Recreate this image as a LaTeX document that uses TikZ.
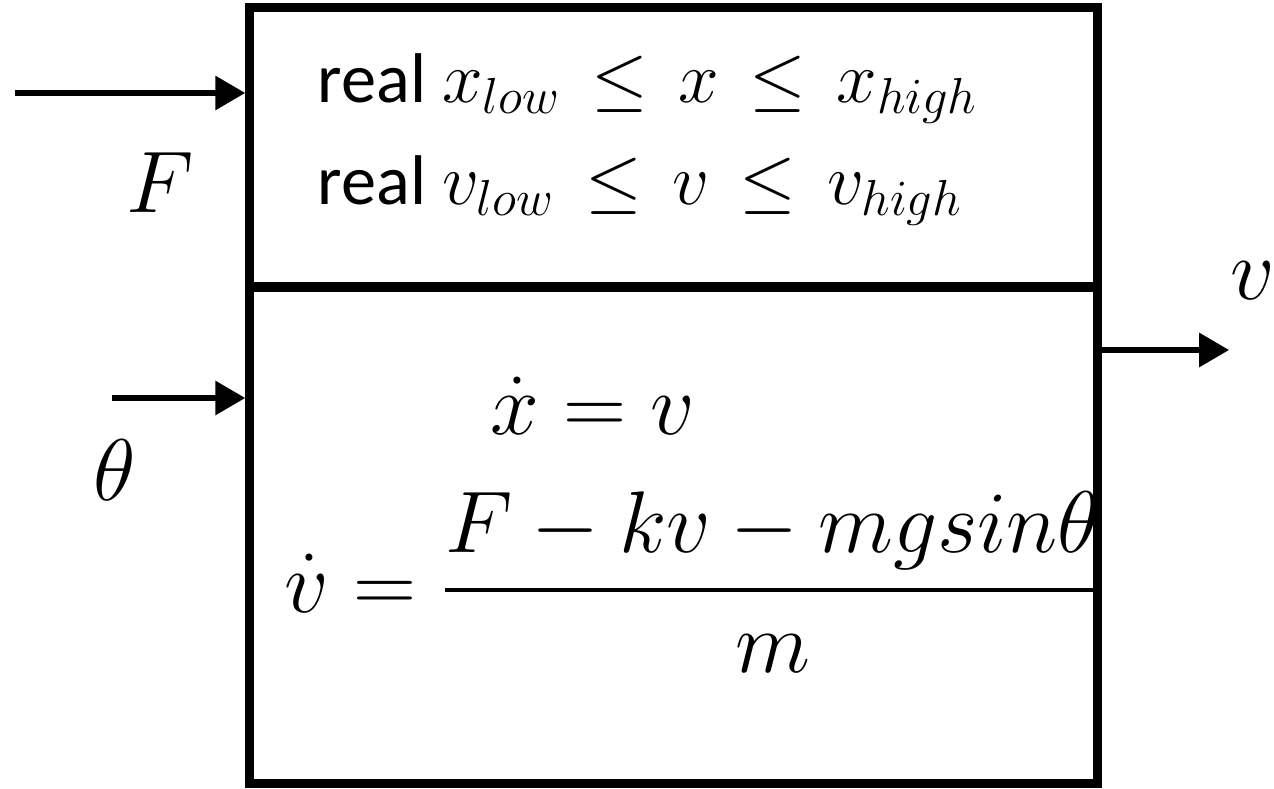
\documentclass[tikz,border=0pt]{standalone}
\usepackage{amsmath,amssymb}
\usepackage{fontspec}
\setmainfont{Carlito}
\usetikzlibrary{arrows.meta}

\newcommand{\rangemath}[1]{{\fontsize{22}{26}\selectfont$#1$}}
\newcommand{\leqsp}{\mkern2.5mu\le\mkern2.5mu}

\begin{document}
\begin{tikzpicture}[
  x=0.01cm, y=-0.01cm,
  block/.style={draw, line width=2.6pt, minimum width=8.47cm,
    minimum height=7.75cm, inner sep=0pt},
  arrow/.style={-{Triangle[length=8.5pt,width=9.5pt]}, line width=1.45pt},
  bound/.style={anchor=base west, inner sep=0pt, font=\fontsize{20}{24}\selectfont},
  eqn/.style={anchor=base west, inner sep=0pt, font=\fontsize{23.2}{28}\selectfont},
  sig/.style={inner sep=0pt, font=\fontsize{24}{29}\selectfont}
]
\useasboundingbox (0,0) rectangle (1274,789);

\node[block] (block) at (673.5,395.5) {};
\draw[line width=2.6pt] (250,287) -- (1097,287);

\coordinate (Fin) at (15,93);
\coordinate (thin) at (112,398);
\coordinate (vout) at (1229,350);
\draw[arrow] (Fin) -- (Fin -| block.west);
\draw[arrow] (thin) -- (thin -| block.west);
\draw[arrow] (vout -| block.east) -- (vout);

\node[sig] (lblF) at (160,183) {$F$};
\node[sig] (lblth) at (115,470) {$\theta$};
\node[sig] (lblv) at (1253,281) {$v$};

\node[bound] (xbound) at (317,103) {real \rangemath{x_{low}\leqsp x\leqsp x_{high}}};
\node[bound] (vbound) at (317,205) {real \rangemath{v_{low}\leqsp v\leqsp v_{high}}};

\node[eqn] (xdot) at (490,435) {$\dot{x} = v$};
\node[eqn] (vdot) at (284,612) {$\dot{v} = \dfrac{F-kv-mgsin\theta}{m}$};
\end{tikzpicture}
\end{document}
